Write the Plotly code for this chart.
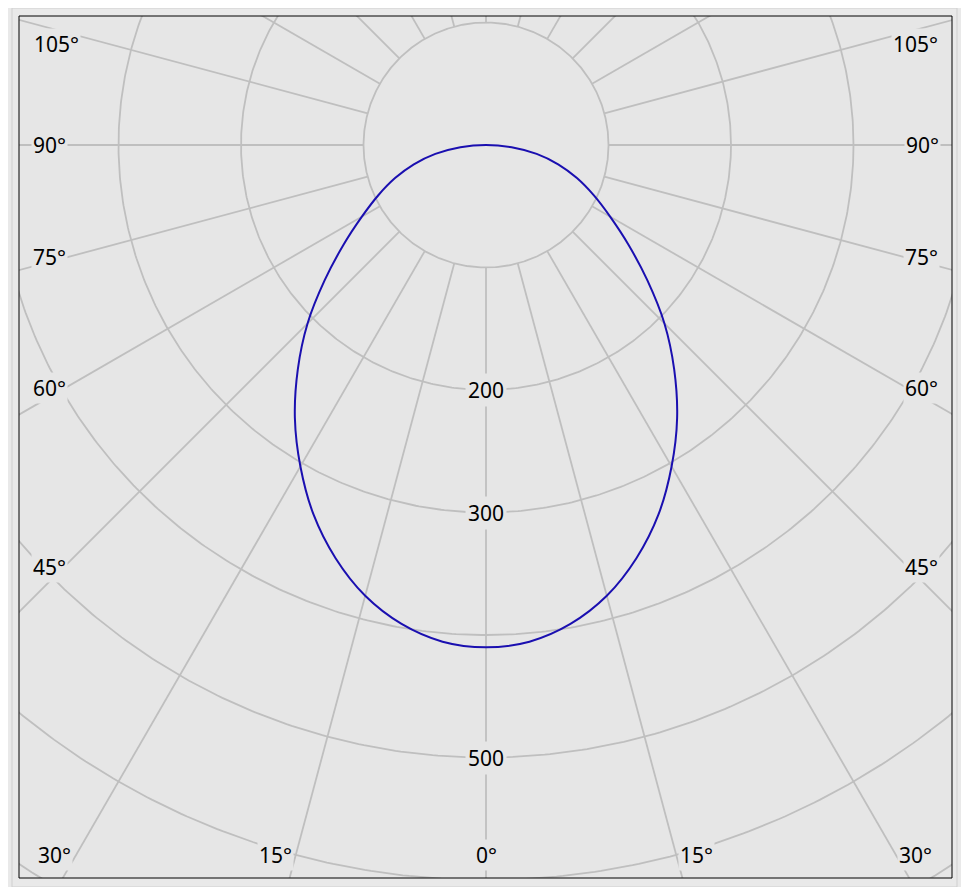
import numpy as np
import plotly.graph_objects as go


# luminous intensity, cd/klm (symmetric about 0°)
gamma_deg = [0, 5, 10, 15, 20, 25, 30, 35, 40, 45,
             50, 55, 60, 65, 70, 75, 80, 85, 90]
intensity = [410, 407, 397, 381, 359, 333, 303, 272, 239, 206,
             172, 142, 117, 97, 79, 61, 42, 21, 0]

ring_values = [100, 200, 300, 400, 500, 600, 700, 800]
ring_labels = [200, 300, 500]
spoke_angles = list(range(0, 360, 15))

left_labels = ["105°", "90°", "75°", "60°", "45°", "30°"]
right_labels = ["105°", "90°", "75°", "60°", "45°", "30°"]
bottom_labels = ["15°", "0°", "15°"]

# pixel layout of the picture
PX = 1.225          # pixels per cd/klm
CX, CY = 486, 145   # pole of the diagram in page pixels
FRAME = (19, 16, 952, 878)
OFF = 8             # body margin of the html page

left_pos = [(32, 44), (31, 145), (31, 257), (31, 388), (31, 567), (36, 855)]
right_pos = [(940, 44), (941, 145), (940, 257), (940, 388), (940, 567), (934, 855)]
bottom_pos = [(275, 855), (486, 855), (696, 855)]

BG = "#e6e6e6"
GRID = "#bfbfbf"
FONT = dict(family="Noto Sans, Tahoma, sans-serif", size=21, color="#000000")


def to_data(px, py):
    return (px - CX) / PX, (CY - py) / PX


# full curve from -90° to 90°
g_all = [-g for g in gamma_deg[::-1]] + gamma_deg[1:]
i_all = intensity[::-1] + intensity[1:]
g_rad = np.radians(g_all)
curve_x = np.array(i_all) * np.sin(g_rad)
curve_y = -np.array(i_all) * np.cos(g_rad)

# grid rings
t = np.linspace(0, 2 * np.pi, 721)
ring_x, ring_y = [], []
for r in ring_values:
    ring_x += list(r * np.cos(t)) + [None]
    ring_y += list(r * np.sin(t)) + [None]

# spokes start at the first ring
spoke_x, spoke_y = [], []
for a in spoke_angles:
    ar = np.radians(a)
    spoke_x += [100 * np.sin(ar), 1200 * np.sin(ar), None]
    spoke_y += [-100 * np.cos(ar), -1200 * np.cos(ar), None]

fig = go.Figure()

fig.add_trace(go.Scatter(
    x=spoke_x, y=spoke_y, mode="lines",
    line=dict(color=GRID, width=1.8), hoverinfo="skip"
))
fig.add_trace(go.Scatter(
    x=ring_x, y=ring_y, mode="lines",
    line=dict(color=GRID, width=1.8), hoverinfo="skip"
))
fig.add_trace(go.Scatter(
    x=curve_x, y=curve_y, mode="lines",
    line=dict(color="#1a0fb0", width=2, shape="spline", smoothing=0.9)
))

annotations = []
for v in ring_labels:
    annotations.append(dict(
        x=0, y=-v, text=str(v), showarrow=False, font=FONT,
        bgcolor=BG, borderpad=2, xanchor="center", yanchor="middle"
    ))
for txt, (px, py) in zip(left_labels, left_pos):
    x, y = to_data(px, py)
    annotations.append(dict(x=x, y=y, text=txt, showarrow=False, font=FONT,
                            bgcolor=BG, borderpad=1, xanchor="left", yanchor="middle"))
for txt, (px, py) in zip(right_labels, right_pos):
    x, y = to_data(px, py)
    annotations.append(dict(x=x, y=y, text=txt, showarrow=False, font=FONT,
                            bgcolor=BG, borderpad=1, xanchor="right", yanchor="middle"))
for txt, (px, py) in zip(bottom_labels, bottom_pos):
    x, y = to_data(px, py)
    annotations.append(dict(x=x, y=y, text=txt, showarrow=False, font=FONT,
                            bgcolor=BG, borderpad=1, xanchor="center", yanchor="middle"))

x0, y0, x1, y1 = FRAME
W, H = 969 - 2 * OFF, 895 - 2 * OFF
pw, ph = x1 - x0, y1 - y0

fig.update_layout(
    width=W,
    height=H,
    margin=dict(l=x0 - OFF, r=W + OFF - x1, t=y0 - OFF, b=H + OFF - y1, pad=0),
    plot_bgcolor=BG,
    paper_bgcolor="#e9e9e9",
    showlegend=False,
    xaxis=dict(range=[(x0 - CX) / PX, (x1 - CX) / PX], visible=False, fixedrange=True),
    yaxis=dict(range=[(CY - y1) / PX, (CY - y0) / PX], visible=False, fixedrange=True),
    annotations=annotations,
    shapes=[
        dict(type="rect", xref="paper", yref="paper", x0=0, y0=0, x1=1, y1=1,
             line=dict(color="#000000", width=1), layer="above"),
        dict(type="rect", xref="paper", yref="paper",
             x0=(12 - x0) / pw, x1=(957 - x0) / pw,
             y0=(y1 - 887) / ph, y1=(y1 - 8) / ph,
             line=dict(color="#cfcfcf", width=1), layer="below"),
    ],
)

fig.write_html("out.html", config={"displayModeBar": False})
